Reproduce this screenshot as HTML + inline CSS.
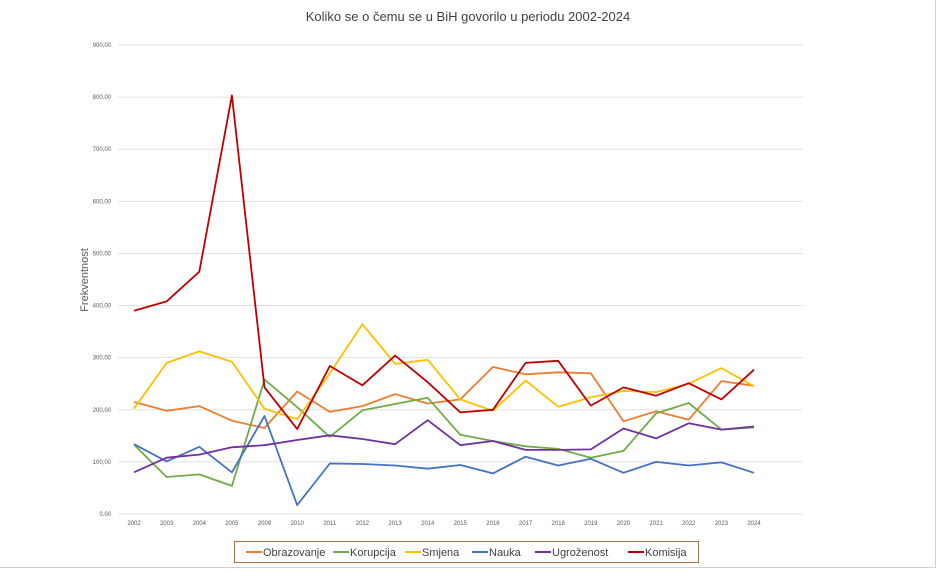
<!DOCTYPE html>
<html><head><meta charset="utf-8"><style>
body{margin:0;background:#fff;width:936px;height:568px;overflow:hidden;font-family:"Liberation Sans",sans-serif}
svg text{font-family:"Liberation Sans",sans-serif}
</style></head><body>
<svg id="c" width="936" height="568">
<text x="468" y="21" text-anchor="middle" font-size="13" fill="#404040">Koliko se o čemu se u BiH govorilo u periodu 2002-2024</text>
<text transform="translate(88,280) rotate(-90)" text-anchor="middle" font-size="11" fill="#595959">Frekventnost</text>
<g id="grid"></g><g id="series"></g>
<rect x="234.5" y="541.5" width="464" height="21" fill="#fff" stroke="#b07050"/>
<g id="legend"></g>
<line x1="935.5" y1="0" x2="935.5" y2="568" stroke="#d0d0d0"/>
<line x1="0" y1="567.5" x2="936" y2="567.5" stroke="#d0d0d0"/>
</svg>
<script>
const categories=["2002","2003","2004","2005","2009","2010","2011","2012","2013","2014","2015","2016","2017","2018","2019","2020","2021","2022","2023","2024"];
const yTicks=[0,100,200,300,400,500,600,700,800,900];
const seriesNames=["Obrazovanje","Korupcija","Smjena","Nauka","Ugroženost","Komisija"];
const seriesColors=["#ed7d31","#70ad47","#ffc000","#4472c4","#7030a0","#c00000"];
const obrazovanje=[215,198,207,179,165,235,196,207,230,212,220,282,268,272,270,178,197,181,255,246];
const korupcija=[133,71,76,54,258,205,148,199,211,223,152,140,130,125,108,121,193,213,162,166];
const smjena=[202,290,312,292,202,182,270,364,288,296,220,198,256,206,224,236,234,250,280,245];
const nauka=[134,101,129,80,188,17,97,96,93,87,94,78,110,93,106,79,100,93,99,79];
const ugrozenost=[80,108,114,128,132,142,151,144,134,180,132,140,123,123,124,164,145,174,162,168];
const komisija=[390,408,465,803,243,163,284,247,304,253,195,200,290,294,208,243,227,251,220,277];
const allSeries=[obrazovanje,korupcija,smjena,nauka,ugrozenost,komisija];
const NS="http://www.w3.org/2000/svg";
const xS=i=>134+i*(620/(categories.length-1));
const yS=v=>514-v*(469/900);
const grid=document.getElementById('grid');
yTicks.forEach(t=>{
 const l=document.createElementNS(NS,'line');
 l.setAttribute('x1',118);l.setAttribute('x2',803);l.setAttribute('y1',yS(t));l.setAttribute('y2',yS(t));
 l.setAttribute('stroke','#e0e0e0');l.setAttribute('stroke-width','1');
 
 
 grid.appendChild(l);
 const tx=document.createElementNS(NS,'text');
 tx.setAttribute('x',111);tx.setAttribute('y',yS(t)+2);tx.setAttribute('text-anchor','end');tx.setAttribute('font-size','6');tx.setAttribute('fill','#595959');
 tx.textContent=t.toFixed(2).replace('.',',');
 
 
 grid.appendChild(tx);
});
categories.forEach((c,i)=>{
 const tx=document.createElementNS(NS,'text');
 tx.setAttribute('x',xS(i));tx.setAttribute('y',525);tx.setAttribute('text-anchor','middle');tx.setAttribute('font-size','6');tx.setAttribute('fill','#595959');
 tx.textContent=c;
 
 
 grid.appendChild(tx);
});
const sg=document.getElementById('series');
allSeries.forEach((d,k)=>{
 const p=document.createElementNS(NS,'polyline');
 p.setAttribute('points',d.map((v,i)=>xS(i).toFixed(1)+','+yS(v).toFixed(1)).join(' '));
 p.setAttribute('fill','none');p.setAttribute('stroke',seriesColors[k]);p.setAttribute('stroke-width','1.8');p.setAttribute('stroke-linejoin','round');
 
 
 sg.appendChild(p);
});
const lg=document.getElementById('legend');
const lx=[246,333,405,472,535,628];
seriesNames.forEach((n,k)=>{
 const l=document.createElementNS(NS,'line');
 l.setAttribute('x1',lx[k]);l.setAttribute('x2',lx[k]+16);l.setAttribute('y1',552);l.setAttribute('y2',552);
 l.setAttribute('stroke',seriesColors[k]);l.setAttribute('stroke-width','2');
 
 
 lg.appendChild(l);
 const t=document.createElementNS(NS,'text');
 t.setAttribute('x',lx[k]+17);t.setAttribute('y',556);t.setAttribute('font-size','11');t.setAttribute('fill','#404040');
 t.textContent=n;
 
 
 lg.appendChild(t);
});
</script>
</body></html>
